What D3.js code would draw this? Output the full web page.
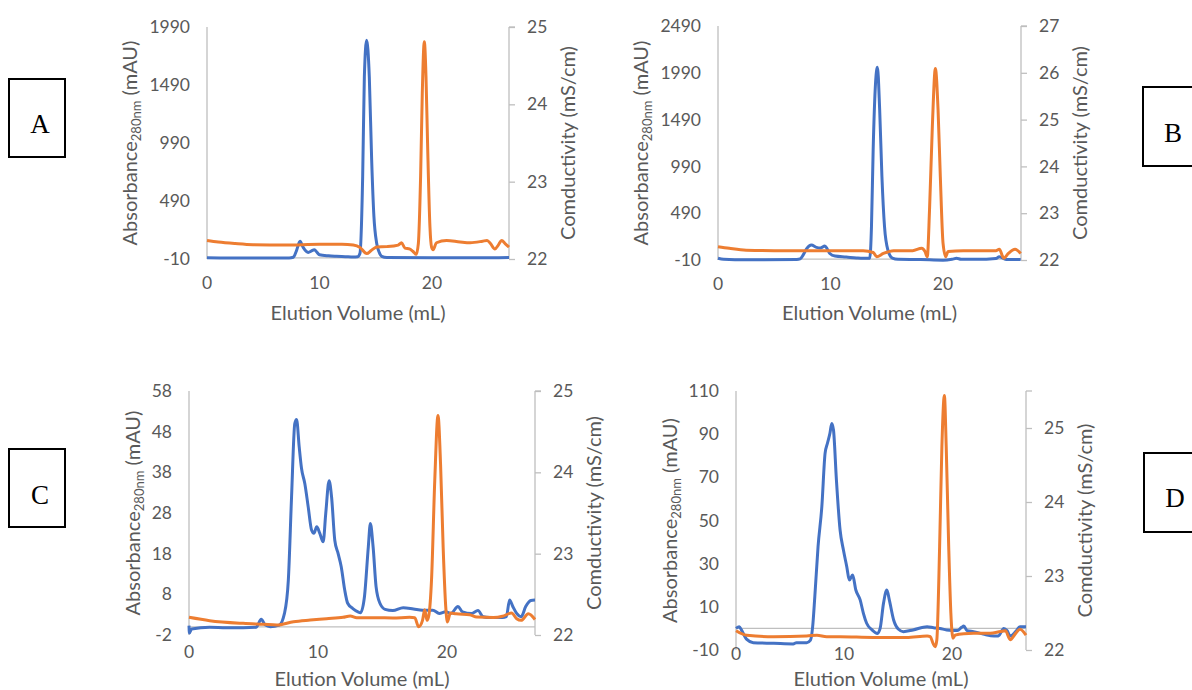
<!DOCTYPE html>
<html lang="en">
<head>
  <meta charset="UTF-8">
  <title>Elution profiles A-D</title>
  <script src="https://d3js.org/d3.v7.min.js"></script>
  <style>
    body { margin: 0; background: #fff; }
    svg { display: block; }
    .tick-label { font-family: Lato, "Open Sans", sans-serif; font-size: 17.5px; fill: #595959; }
    .axis-title { font-family: Lato, "Open Sans", sans-serif; font-size: 20px; fill: #595959; }
    .panel-letter { font-family: "Liberation Serif", "DejaVu Serif", serif; font-size: 27px; fill: #000; }
  </style>
</head>
<body>
<div id="chart"></div>
<script>
// ---- data: [elution volume mL, value] ----
// panel A
const absA = [[0,0],[2,-2],[5,-2],[7.3,-1],[7.67,5],[7.95,60],[8.27,142],[8.55,90],[9.0,47],[9.3,60],[9.54,70],[9.8,45],[10.0,27],[10.8,17],[11.5,13],[12.3,10],[13.0,7],[13.4,10],[13.6,40],[13.84,700],[13.99,1560],[14.19,1875],[14.43,1560],[14.64,844],[14.84,357],[15.08,128],[15.3,50],[15.53,13],[16.0,2],[20,0],[24,0],[26.85,2]];
const condA = [[0,22.24],[1,22.22],[2.5,22.2],[4.1,22.185],[7,22.18],[10,22.19],[12,22.19],[13.0,22.18],[13.6,22.15],[14.2,22.07],[14.6,22.11],[15.1,22.155],[16,22.16],[17.0,22.18],[17.3,22.21],[17.6,22.14],[18.0,22.13],[18.3,22.1],[18.6,22.06],[18.79,22.2],[18.99,23.06],[19.14,24.14],[19.32,24.81],[19.47,24.36],[19.61,23.5],[19.82,22.42],[19.97,22.15],[20.1,22.12],[20.4,22.21],[21.3,22.24],[22.5,22.22],[23.4,22.21],[24.5,22.23],[24.9,22.24],[25.2,22.2],[25.6,22.13],[25.9,22.18],[26.2,22.24],[26.5,22.2],[26.85,22.155]];
// panel B
const absB = [[0,8],[0.5,-3],[1.5,-6],[4,-6],[7.0,-4],[7.3,2],[7.6,50],[7.9,115],[8.3,150],[8.75,125],[9.1,118],[9.5,140],[9.7,110],[9.94,60],[10.4,32],[11.4,22],[12.3,12],[12.9,8],[13.49,10],[13.64,346],[13.79,1165],[14.0,1877],[14.17,2048],[14.37,1592],[14.57,880],[14.8,346],[15.1,97],[15.5,10],[16,-2],[18,-5],[20,-12],[20.8,-2],[21.2,8],[21.6,-2],[23,-3],[24.7,6],[25.0,26],[25.6,-4],[26.9,-4]];
const condB = [[0,22.285],[1,22.25],[2.5,22.21],[5,22.2],[10,22.2],[12.9,22.2],[13.8,22.16],[14.1,22.07],[14.7,22.14],[15.6,22.2],[17.3,22.2],[18.1,22.25],[18.4,22.18],[18.6,22.07],[18.8,23.07],[19.05,24.85],[19.32,26.09],[19.56,25.2],[19.76,23.78],[20.0,22.36],[20.24,22.07],[20.44,22.18],[21.8,22.2],[24.7,22.2],[25.0,22.23],[25.4,22.04],[25.8,22.14],[26.4,22.23],[26.9,22.14]];
// panel C
const absC = [[0,0.3],[0.03,-1.5],[0.2,-0.5],[1.6,-0.1],[2.9,-0.2],[4.2,-0.2],[5.2,-0.1],[5.6,1.85],[5.9,0.5],[6.3,0.05],[7.0,0.45],[7.4,3.3],[7.7,11.5],[7.95,32],[8.2,50],[8.34,51],[8.54,44.3],[8.72,39],[8.98,35.2],[9.24,29.5],[9.5,23.8],[9.68,23],[9.9,24.6],[10.14,23],[10.4,20.9],[10.6,27.9],[10.86,35.9],[11.05,32],[11.3,21.3],[11.56,18],[11.8,14.8],[12.07,9.05],[12.3,5.8],[12.7,4.5],[13.1,3.7],[13.3,3.5],[13.6,7.4],[13.9,19.7],[14.06,25.4],[14.27,19.7],[14.5,9.9],[14.8,5.8],[15.2,4.3],[15.8,4.0],[16.6,4.7],[17.4,4.4],[18.1,4.1],[18.9,4.1],[19.4,3.3],[19.9,3.7],[20.3,3.3],[20.85,5.0],[21.2,3.7],[21.9,3.3],[22.4,4],[22.8,2.5],[23.3,2.3],[24.3,2.3],[24.6,2.5],[24.85,6.6],[25.1,5],[25.4,3.3],[25.75,2.5],[26.1,5],[26.5,6.5],[26.82,6.6]];
const condC = [[0,22.217],[1.6,22.176],[4.2,22.143],[5.8,22.131],[6.8,22.123],[8.1,22.164],[9.4,22.184],[10.66,22.2],[11.95,22.217],[12.5,22.233],[13.0,22.213],[14.5,22.213],[15.8,22.21],[17.1,22.217],[17.5,22.212],[17.8,22.1],[18.1,22.18],[18.27,22.31],[18.45,22.18],[18.6,22.25],[18.8,22.68],[19.05,23.9],[19.3,24.7],[19.5,24.1],[19.7,23.08],[19.9,22.35],[20.03,22.16],[20.26,22.27],[20.7,22.26],[21.75,22.25],[22.3,22.22],[23.6,22.215],[24.3,22.23],[25.0,22.27],[25.4,22.2],[25.75,22.18],[26.3,22.26],[26.82,22.19]];
// panel D
const absD = [[0,0.04],[0.3,0.8],[0.5,-0.7],[1.0,-5.1],[1.6,-6.6],[3.5,-6.9],[5.3,-7.2],[5.6,-6.6],[6.55,-6.6],[6.9,-5.4],[7.1,0.8],[7.3,14.7],[7.6,37.9],[7.95,56.4],[8.25,81.1],[8.47,85.8],[8.7,90.4],[8.87,95.0],[9.03,91.9],[9.3,68.8],[9.64,45.6],[9.95,36.3],[10.26,28.6],[10.5,22.4],[10.8,24.7],[11.1,17.8],[11.5,13.2],[11.8,7],[12.1,2.4],[12.6,-0.7],[13.1,-2.3],[13.35,0],[13.66,11.6],[13.97,17.8],[14.2,13.2],[14.6,3.9],[15.05,-0.4],[15.5,-1.5],[16.4,-0.7],[17.7,0.8],[18.3,0.35],[18.9,0],[19.5,-0.7],[20.5,-1.0],[20.9,0.5],[21.1,1.1],[21.4,-1],[22.0,-1.5],[22.9,-2.6],[23.9,-3.5],[24.3,-3.5],[24.8,0],[25.1,-1],[25.4,-3.5],[25.9,-1.5],[26.3,0.8],[26.86,0.8]];
const condD = [[0,22.261],[1.0,22.2],[3.5,22.18],[6.55,22.19],[7.5,22.2],[8.4,22.18],[9.64,22.18],[12.7,22.17],[15.8,22.17],[17.7,22.19],[18.0,22.18],[18.25,22.09],[18.45,22.045],[18.6,22.135],[18.86,23.4],[19.07,24.75],[19.3,25.44],[19.47,24.75],[19.7,23.4],[19.9,22.5],[20.1,22.16],[20.3,22.2],[21.1,22.22],[22.0,22.225],[23.55,22.225],[24.5,22.25],[24.95,22.26],[25.4,22.14],[25.9,22.225],[26.3,22.28],[26.86,22.2]];

// axis ticks
const xTicks = [0, 10, 20];
const absTicksA = [-10, 490, 990, 1490, 1990];
const absTicksB = [-10, 490, 990, 1490, 1990, 2490];
const absTicksC = [-2, 8, 18, 28, 38, 48, 58];
const absTicksD = [-10, 10, 30, 50, 70, 90, 110];
const condTicksA = [22, 23, 24, 25];
const condTicksB = [22, 23, 24, 25, 26, 27];
const condTicksC = [22, 23, 24, 25];
const condTicksD = [22, 23, 24, 25];

const xTitle = "Elution Volume (mL)";
const condTitle = "Comductivity (mS/cm)";
const panelLetters = ["A", "B", "C", "D"];

// ---- layout ----
const W = 1192, H = 690;
const BLUE = "#4472c4", ORANGE = "#ed7d31", AXIS = "#bfbfbf";

const panels = [
  { abs: absA, cond: condA, absTicks: absTicksA, condTicks: condTicksA, absDom: [-10, 1990], condDom: [22, 25],
    xMax: 26.85, left: 207, right: 509, top: 27, bottom: 259, titleY: 313 },
  { abs: absB, cond: condB, absTicks: absTicksB, condTicks: condTicksB, absDom: [-10, 2490], condDom: [22, 27],
    xMax: 26.93, left: 718, right: 1021, top: 26, bottom: 260, titleY: 313 },
  { abs: absC, cond: condC, absTicks: absTicksC, condTicks: condTicksC, absDom: [-2, 58], condDom: [22, 25],
    xMax: 26.82, left: 189, right: 535, top: 391, bottom: 635, titleY: 679 },
  { abs: absD, cond: condD, absTicks: absTicksD, condTicks: condTicksD, absDom: [-10, 110], condDom: [22, 25.5],
    xMax: 26.86, left: 736, right: 1026, top: 391, bottom: 650, titleY: 679 }
];

// letter boxes beside each panel
const boxes = [
  { x: 9, y: 79, w: 56, h: 78, tx: 40, ty: 133 },
  { x: 1143, y: 87, w: 56, h: 79, tx: 1173, ty: 142 },
  { x: 9, y: 449, w: 56, h: 78, tx: 40, ty: 504 },
  { x: 1144, y: 453, w: 56, h: 79, tx: 1175, ty: 507 }
];

const svg = d3.select("#chart").append("svg")
  .attr("width", W).attr("height", H);

function drawPanel(p) {
  const g = svg.append("g");
  const x = d3.scaleLinear().domain([0, p.xMax]).range([p.left, p.right]);
  const yL = d3.scaleLinear().domain(p.absDom).range([p.bottom, p.top]);
  const yR = d3.scaleLinear().domain(p.condDom).range([p.bottom, p.top]);

  // left axis line, no tick marks
  g.append("line")
    .attr("x1", p.left).attr("x2", p.left)
    .attr("y1", p.top).attr("y2", p.bottom)
    .attr("stroke", AXIS).attr("stroke-width", 1.3);

  // horizontal axis line crosses at zero absorbance
  g.append("line")
    .attr("x1", p.left).attr("x2", p.right)
    .attr("y1", yL(0)).attr("y2", yL(0))
    .attr("stroke", AXIS).attr("stroke-width", 1.3);

  // right axis with outward ticks
  const rAxis = d3.axisRight(yR).tickValues(p.condTicks).tickSize(6).tickFormat("");
  const ra = g.append("g").attr("transform", `translate(${p.right},0)`).call(rAxis);
  ra.select(".domain").attr("stroke", AXIS).attr("stroke-width", 1.3)
    .attr("d", `M0,${p.top}V${p.bottom}`);
  ra.selectAll(".tick line").attr("stroke", AXIS).attr("stroke-width", 1.3);
  // top cap tick
  ra.append("line").attr("x1", 0).attr("x2", 6).attr("y1", p.top).attr("y2", p.top)
    .attr("stroke", AXIS).attr("stroke-width", 1.3);

  // tick labels
  const lLabels = g.selectAll(".ll").data(p.absTicks).join("text")
    .attr("class", "tick-label")
    .attr("x", p.left - 17).attr("y", d => yL(d))
    .attr("dy", "0.35em").attr("text-anchor", "end")
    .text(d => d);
  const rLabels = g.selectAll(".rl").data(p.condTicks).join("text")
    .attr("class", "tick-label")
    .attr("x", p.right + 18).attr("y", d => yR(d))
    .attr("dy", "0.35em").attr("text-anchor", "start")
    .text(d => d);
  const xLabY = yL(0) + 25;
  g.selectAll(".xl").data(xTicks).join("text")
    .attr("class", "tick-label")
    .attr("x", d => x(d)).attr("y", xLabY)
    .attr("dy", "0.35em").attr("text-anchor", "middle")
    .text(d => d);

  // titles
  const lw = d3.max(lLabels.nodes(), n => n.getComputedTextLength());
  const rw = d3.max(rLabels.nodes(), n => n.getComputedTextLength());
  const cy = (p.top + p.bottom) / 2;
  const lx = p.left - 17 - lw - 19;
  const lt = g.append("text").attr("class", "axis-title")
    .attr("transform", `translate(${lx},${cy}) rotate(-90)`)
    .attr("text-anchor", "middle").attr("dy", "0.35em");
  lt.append("tspan").text("Absorbance");
  lt.append("tspan").attr("font-size", "13px").attr("dy", "4").text("280nm");
  lt.append("tspan").attr("dy", "-4").text(" (mAU)");

  const rx = p.right + 18 + rw + 21;
  g.append("text").attr("class", "axis-title")
    .attr("transform", `translate(${rx},${cy}) rotate(-90)`)
    .attr("text-anchor", "middle").attr("dy", "0.35em")
    .text(condTitle);

  g.append("text").attr("class", "axis-title")
    .attr("x", (p.left + p.right) / 2).attr("y", p.titleY)
    .attr("dy", "0.35em").attr("text-anchor", "middle")
    .text(xTitle);

  // series
  const lineAbs = d3.line().x(d => x(d[0])).y(d => yL(d[1])).curve(d3.curveMonotoneX);
  const lineCond = d3.line().x(d => x(d[0])).y(d => yR(d[1])).curve(d3.curveMonotoneX);
  g.append("path").datum(p.abs).attr("d", lineAbs)
    .attr("fill", "none").attr("stroke", BLUE).attr("stroke-width", 3)
    .attr("stroke-linejoin", "round");
  g.append("path").datum(p.cond).attr("d", lineCond)
    .attr("fill", "none").attr("stroke", ORANGE).attr("stroke-width", 3)
    .attr("stroke-linejoin", "round");
}

panels.forEach(drawPanel);

// panel letters in boxes
boxes.forEach((b, i) => {
  svg.append("rect").attr("x", b.x).attr("y", b.y).attr("width", b.w).attr("height", b.h)
    .attr("fill", "none").attr("stroke", "#000").attr("stroke-width", 2);
  svg.append("text").attr("class", "panel-letter")
    .attr("x", b.tx).attr("y", b.ty).attr("text-anchor", "middle")
    .text(panelLetters[i]);
});
</script>
</body>
</html>
